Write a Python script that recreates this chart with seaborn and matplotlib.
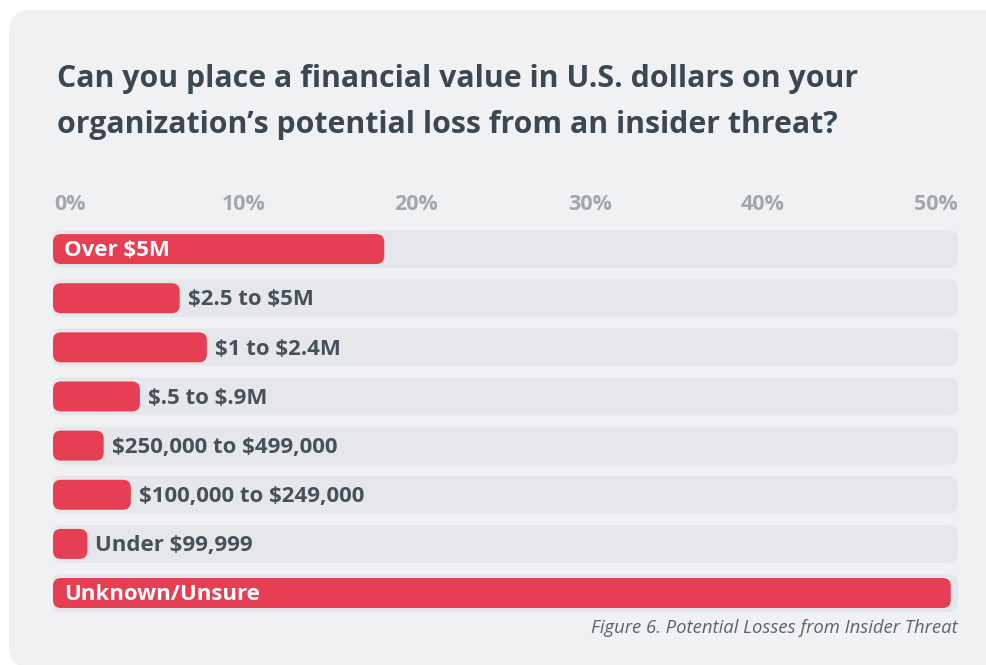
import numpy as np
import seaborn as sns
import matplotlib.pyplot as plt
from matplotlib.patches import FancyBboxPatch

# data
categories = ["Over $5M", "$2.5 to $5M", "$1 to $2.4M", "$.5 to $.9M",
              "$250,000 to $499,000", "$100,000 to $249,000",
              "Under $99,999", "Unknown/Unsure"]
percents = [18.3, 7.0, 8.5, 4.8, 2.8, 4.3, 1.9, 49.6]
tick_labels = ["0%", "10%", "20%", "30%", "40%", "50%"]
axis_max = 50
track_values = [axis_max] * len(categories)

title_lines = ["Can you place a financial value in U.S. dollars on your",
               "organization\u2019s potential loss from an insider threat?"]
caption = "Figure 6. Potential Losses from Insider Threat"

RED = "#e63f53"
TRACK = "#e6e7ea"
CARD = "#f0f1f3"
DARK = "#3b4751"
LABEL = "#46525a"
TICK = "#a2a7a9"

W, H = 987, 665


def round_bars(ax, patches, color, radius_px, pad_left_px=0, pad_right_px=0):
    """Swap seaborn's plain rectangles for rounded ones (radius in pixels)."""
    fig = ax.figure
    pos = ax.get_position()
    x0, x1 = ax.get_xlim()
    y0, y1 = ax.get_ylim()
    sx = pos.width * fig.bbox.width / abs(x1 - x0)
    sy = pos.height * fig.bbox.height / abs(y1 - y0)
    for p in list(patches):
        x, y, w, h = p.get_x(), p.get_y(), p.get_width(), p.get_height()
        p.remove()
        xs = x - pad_left_px / sx
        ws = w + (pad_left_px + pad_right_px) / sx
        r = min(radius_px, 0.5 * ws * sx, 0.5 * h * sy)
        ax.add_patch(FancyBboxPatch(
            (xs, y), ws, h,
            boxstyle="round,pad=0,rounding_size={}".format(r / sx),
            mutation_aspect=sx / sy, fc=color, ec="none", zorder=2))


sns.set_theme(style="white")
plt.rcParams['font.family'] = ['Open Sans', 'DejaVu Sans']
plt.rcParams['text.parse_math'] = False  # labels contain "$"

fig = plt.figure(figsize=(W / 100, H / 100), dpi=100, facecolor="white")

# background card + titles in pixel coordinates
bg = fig.add_axes([0, 0, 1, 1], zorder=0)
bg.set_xlim(0, W)
bg.set_ylim(H, 0)
bg.axis("off")
bg.add_patch(FancyBboxPatch((9, 10), 995, 658,
                            boxstyle="round,pad=0,rounding_size=22",
                            fc=CARD, ec="none"))
bg.text(57, 79, title_lines[0], fontsize=21.8, fontweight="bold", color=DARK,
        ha="left", va="center")
bg.text(57, 125, title_lines[1], fontsize=21.8, fontweight="bold", color=DARK,
        ha="left", va="center")
bg.text(958, 628, caption, fontsize=13.3, style="italic", color="#5b646a",
        ha="right", va="center")

# bar area: 0% at x=53px, 50% at x=958px, rows 49px apart
ax_top, ax_bot = 224.5, 617.6
ax = fig.add_axes([53 / W, (H - ax_bot) / H, 905 / W, (ax_bot - ax_top) / H],
                  zorder=1)
ax.set_facecolor("none")

sns.barplot(x=track_values, y=categories, orient="h", color=TRACK,
            saturation=1, width=0.77, errorbar=None, ax=ax)
n_track = len(ax.patches)
sns.barplot(x=percents, y=categories, orient="h", color=RED,
            saturation=1, width=0.61, errorbar=None, ax=ax)

ax.set_xlim(0, axis_max)
ax.set_ylim(len(categories) - 0.5, -0.5)

patches = list(ax.patches)
round_bars(ax, patches[:n_track], TRACK, 11, pad_left_px=2, pad_right_px=1)
round_bars(ax, patches[n_track:], RED, 8)

for i, (cat, val) in enumerate(zip(categories, percents)):
    if val > 15:
        ax.annotate(cat, xy=(0, i), xytext=(8, -1.2), textcoords="offset points",
                    fontsize=16, fontweight="bold", color="white",
                    ha="left", va="center", zorder=3)
    else:
        ax.annotate(cat, xy=(val, i), xytext=(5.8, -1.2), textcoords="offset points",
                    fontsize=16, fontweight="bold", color=LABEL,
                    ha="left", va="center", zorder=3)

ax.xaxis.tick_top()
ax.set_xticks(np.linspace(0.94, 48.8, len(tick_labels)))
ax.set_xticklabels(tick_labels, fontsize=15.5, fontweight="bold", color=TICK)
ax.tick_params(axis="x", length=0, pad=7)
ax.set_yticks([])
ax.set_xlabel("")
ax.set_ylabel("")
sns.despine(ax=ax, left=True, bottom=True, top=True, right=True)

fig.savefig("out.png", dpi=100)
